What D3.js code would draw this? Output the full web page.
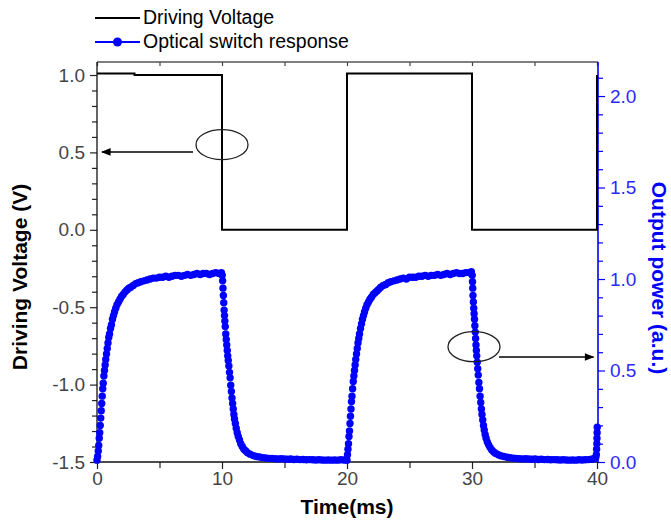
<!DOCTYPE html>
<html>
<head>
<meta charset="utf-8">
<script src="https://cdn.jsdelivr.net/npm/d3@7/dist/d3.min.js"></script>
<style>
  body { margin: 0; background: #fff; }
  svg text { font-family: "Liberation Sans", Arial, sans-serif; }
</style>
</head>
<body>
<div id="chart"></div>
<script>
// driving voltage (square wave), [time ms, volts]
var voltage = [[0, 1.01], [3, 1.01], [3, 1.0], [10, 1.0], [10, 0], [20, 0], [20, 1.01], [30, 1.01], [30, 0], [40, 0], [40, 1.0]];

// optical switch response, [time ms, output a.u.]
var rise1 = [[0.00,0.01],[0.05,0.03],[0.10,0.06],[0.14,0.09],[0.18,0.13],[0.22,0.16],[0.26,0.20],[0.30,0.24],[0.34,0.28],[0.38,0.32],[0.42,0.36],[0.46,0.40],[0.50,0.43],[0.55,0.47],[0.60,0.50],[0.65,0.53],[0.70,0.56],[0.76,0.59],[0.82,0.62],[0.88,0.65],[0.94,0.68],[1.00,0.70],[1.08,0.73],[1.16,0.75],[1.24,0.78],[1.32,0.80],[1.40,0.82],[1.50,0.84],[1.60,0.86],[1.72,0.875],[1.84,0.89],[1.96,0.905],[2.10,0.915],[2.25,0.93],[2.40,0.94],[2.55,0.95],[2.70,0.955],[2.90,0.965],[3.10,0.975],[3.30,0.98],[3.50,0.985],[3.75,0.99],[4.00,0.995],[4.25,1.00],[4.50,1.005],[4.75,1.005],[5.00,1.01],[5.25,1.01],[5.50,1.015],[5.75,1.01],[6.00,1.015],[6.25,1.02],[6.50,1.02],[6.75,1.015],[7.00,1.02],[7.25,1.025],[7.50,1.02],[7.75,1.025],[8.00,1.03],[8.25,1.025],[8.50,1.03],[8.75,1.03],[9.00,1.025],[9.25,1.03],[9.50,1.035],[9.75,1.03],[9.95,1.035]];
var fall1 = [[10.02,1.02],[10.05,0.99],[10.08,0.95],[10.11,0.91],[10.14,0.87],[10.17,0.83],[10.20,0.80],[10.23,0.77],[10.26,0.74],[10.30,0.70],[10.34,0.67],[10.38,0.64],[10.42,0.61],[10.46,0.58],[10.50,0.555],[10.55,0.525],[10.60,0.49],[10.65,0.46],[10.70,0.42],[10.75,0.385],[10.80,0.35],[10.85,0.32],[10.90,0.29],[10.95,0.26],[11.00,0.235],[11.07,0.21],[11.14,0.185],[11.22,0.16],[11.30,0.14],[11.40,0.12],[11.50,0.10],[11.62,0.085],[11.75,0.07],[11.90,0.06],[12.05,0.05],[12.25,0.043],[12.50,0.035],[12.75,0.03],[13.00,0.027],[13.25,0.024],[13.50,0.022],[13.75,0.02],[14.00,0.02],[14.25,0.018],[14.50,0.017],[14.75,0.018],[15.00,0.016],[15.25,0.015],[15.50,0.016],[15.75,0.014],[16.00,0.015],[16.25,0.013],[16.50,0.014],[16.75,0.012],[17.00,0.013],[17.25,0.012],[17.50,0.011],[17.75,0.012],[18.00,0.011],[18.25,0.010],[18.50,0.011],[18.75,0.010],[19.00,0.011],[19.25,0.010],[19.50,0.012],[19.75,0.011],[19.95,0.012]];
var rise2 = [[20.00,0.01],[20.04,0.04],[20.08,0.07],[20.12,0.10],[20.16,0.14],[20.20,0.17],[20.24,0.21],[20.28,0.25],[20.32,0.29],[20.36,0.33],[20.40,0.36],[20.45,0.40],[20.50,0.44],[20.55,0.47],[20.60,0.50],[20.65,0.53],[20.70,0.56],[20.76,0.59],[20.82,0.62],[20.88,0.65],[20.94,0.675],[21.00,0.70],[21.08,0.73],[21.16,0.755],[21.24,0.78],[21.32,0.80],[21.40,0.82],[21.50,0.84],[21.60,0.86],[21.72,0.875],[21.84,0.89],[21.96,0.90],[22.10,0.915],[22.25,0.925],[22.40,0.935],[22.55,0.945],[22.70,0.955],[22.90,0.965],[23.10,0.97],[23.30,0.98],[23.50,0.985],[23.75,0.99],[24.00,0.995],[24.25,1.00],[24.50,1.005],[24.75,1.00],[25.00,1.01],[25.25,1.01],[25.50,1.01],[25.75,1.015],[26.00,1.015],[26.25,1.02],[26.50,1.015],[26.75,1.02],[27.00,1.02],[27.25,1.025],[27.50,1.02],[27.75,1.025],[28.00,1.03],[28.25,1.025],[28.50,1.03],[28.75,1.035],[29.00,1.03],[29.25,1.03],[29.50,1.035],[29.75,1.035],[29.95,1.04]];
var fall2 = [[30.02,1.02],[30.04,0.985],[30.06,0.95],[30.08,0.91],[30.11,0.875],[30.14,0.84],[30.17,0.81],[30.20,0.78],[30.23,0.745],[30.26,0.71],[30.29,0.675],[30.32,0.64],[30.35,0.61],[30.38,0.58],[30.42,0.545],[30.46,0.51],[30.50,0.475],[30.55,0.435],[30.60,0.40],[30.65,0.36],[30.70,0.325],[30.75,0.29],[30.80,0.26],[30.86,0.23],[30.92,0.20],[30.98,0.175],[31.05,0.15],[31.13,0.13],[31.22,0.11],[31.32,0.095],[31.44,0.08],[31.58,0.066],[31.74,0.055],[31.90,0.047],[32.10,0.04],[32.30,0.034],[32.55,0.03],[32.80,0.026],[33.05,0.023],[33.30,0.021],[33.55,0.02],[33.80,0.018],[34.05,0.017],[34.30,0.018],[34.55,0.016],[34.80,0.015],[35.05,0.016],[35.30,0.014],[35.55,0.015],[35.80,0.013],[36.05,0.014],[36.30,0.012],[36.55,0.013],[36.80,0.012],[37.05,0.011],[37.30,0.012],[37.55,0.011],[37.80,0.010],[38.05,0.011],[38.30,0.010],[38.55,0.012],[38.80,0.011],[39.05,0.012],[39.30,0.013],[39.55,0.015],[39.75,0.018],[39.90,0.025]];
var rise3 = [[39.95,0.04],[39.97,0.07],[39.99,0.10],[40.00,0.13],[40.01,0.16],[40.02,0.19]];

// tick labels
var timeTicks = [0, 10, 20, 30, 40];
var voltTicks = [-1.5, -1.0, -0.5, 0.0, 0.5, 1.0];
var powerTicks = [0.0, 0.5, 1.0, 1.5, 2.0];

// ellipse + arrow callouts: ellipse centre, arrow start / end
var voltCallout = {t: 10, v: 0.55, arrowFrom: 7.68, arrowTo: 0.4, arrowV: 0.503};
var powerCallout = {t: 30.16, v: 0.63, arrowFrom: 32.16, arrowTo: 39.72, arrowV: 0.574};

var width = 671, height = 522;
var margin = {left: 97, top: 62, right: 74, bottom: 60};
var blue = "#0000ff";

var svg = d3.select("#chart").append("svg")
    .attr("width", width)
    .attr("height", height);

var x = d3.scaleLinear().domain([0, 40]).range([margin.left, width - margin.right]);
var yL = d3.scaleLinear().domain([-1.5, 1.084]).range([height - margin.bottom, margin.top]);
var yR = d3.scaleLinear().domain([0, 2.186]).range([height - margin.bottom, margin.top]);

var x0 = x.range()[0], x1 = x.range()[1], yTop = margin.top, yBot = height - margin.bottom;

function styleAxis(g, color, textColor) {
    g.selectAll("path.domain").remove();
    g.selectAll("line").attr("stroke", color).attr("stroke-width", 1.2);
    g.selectAll("text").attr("fill", textColor || color).attr("font-size", 19)
        .attr("font-family", "'Liberation Sans', Arial, sans-serif");
}

// minor ticks
var voltMinor = d3.range(-1.5, 1.05, 0.1).filter(function(d){ return Math.abs(d*2 - Math.round(d*2)) > 1e-6; });
var powerMinor = d3.range(0, 2.15, 0.1).filter(function(d){ return Math.abs(d*2 - Math.round(d*2)) > 1e-6; });

// bottom axis
svg.append("g").attr("transform", "translate(0," + yBot + ")")
    .call(d3.axisBottom(x).tickValues(timeTicks).tickSize(7).tickPadding(3).tickFormat(d3.format("d")))
    .call(styleAxis, "#222", "#444");
svg.append("g").attr("transform", "translate(0," + yBot + ")")
    .call(d3.axisBottom(x).tickValues([5, 15, 25, 35]).tickSize(6).tickFormat(""))
    .call(styleAxis, "#222");
// top axis, ticks pointing in
svg.append("g").attr("transform", "translate(0," + yTop + ")")
    .call(d3.axisTop(x).tickValues([0, 5, 10, 15, 20, 25, 30, 35, 40]).tickSize(-4).tickFormat(""))
    .call(styleAxis, "#444");

// left axis
svg.append("g").attr("transform", "translate(" + x0 + ",0)")
    .call(d3.axisLeft(yL).tickValues(voltTicks).tickSize(7).tickPadding(5).tickFormat(function(d){ return d.toFixed(1); }))
    .call(styleAxis, "#222", "#444");
svg.append("g").attr("transform", "translate(" + x0 + ",0)")
    .call(d3.axisLeft(yL).tickValues(voltMinor).tickSize(5).tickFormat(""))
    .call(styleAxis, "#222");

// right axis
svg.append("g").attr("transform", "translate(" + (x1 + 1) + ",0)")
    .call(d3.axisRight(yR).tickValues(powerTicks).tickSize(7).tickPadding(5).tickFormat(function(d){ return d.toFixed(1); }))
    .call(styleAxis, blue, "#2a2aff");
svg.append("g").attr("transform", "translate(" + (x1 + 1) + ",0)")
    .call(d3.axisRight(yR).tickValues(powerMinor).tickSize(5).tickFormat(""))
    .call(styleAxis, blue);

// frame
svg.append("line").attr("x1", x0).attr("x2", x1 + 1).attr("y1", yTop).attr("y2", yTop).attr("stroke", "#555").attr("stroke-width", 1.5);
svg.append("line").attr("x1", x0).attr("x2", x1 + 1).attr("y1", yBot).attr("y2", yBot).attr("stroke", "#111").attr("stroke-width", 1.3);
svg.append("line").attr("x1", x0).attr("x2", x0).attr("y1", yTop).attr("y2", yBot).attr("stroke", "#111").attr("stroke-width", 1.3);
svg.append("line").attr("x1", x1 + 1).attr("x2", x1 + 1).attr("y1", yTop).attr("y2", yBot).attr("stroke", blue).attr("stroke-width", 1.6);

// optical response dots
var power = rise1.concat(fall1, rise2, fall2, rise3);
svg.append("g").selectAll("circle")
    .data(power)
    .enter()
    .append("circle")
    .attr("cx", function(d){ return x(d[0]); })
    .attr("cy", function(d){ return yR(d[1]); })
    .attr("r", 3.7)
    .attr("fill", blue);

// driving voltage line
svg.append("path")
    .datum(voltage)
    .attr("d", d3.line().x(function(d){ return x(d[0]); }).y(function(d){ return yL(d[1]); }))
    .attr("fill", "none")
    .attr("stroke", "#000")
    .attr("stroke-width", 2);

// callouts
svg.append("defs").append("marker")
    .attr("id", "arrow").attr("viewBox", "0 0 10 10").attr("refX", 9).attr("refY", 5)
    .attr("markerWidth", 7).attr("markerHeight", 6).attr("orient", "auto")
    .append("path").attr("d", "M0,1 L10,5 L0,9 Z").attr("fill", "#000");

[[voltCallout, yL], [powerCallout, yR]].forEach(function(c) {
    var o = c[0], ys = c[1];
    svg.append("ellipse")
        .attr("cx", x(o.t)).attr("cy", ys(o.v)).attr("rx", 26).attr("ry", 15)
        .attr("fill", "none").attr("stroke", "#222").attr("stroke-width", 1.3);
    svg.append("line")
        .attr("x1", x(o.arrowFrom)).attr("x2", x(o.arrowTo))
        .attr("y1", ys(o.arrowV)).attr("y2", ys(o.arrowV))
        .attr("stroke", "#000").attr("stroke-width", 1.6)
        .attr("marker-end", "url(#arrow)");
});

// axis titles
svg.append("text")
    .attr("transform", "translate(27," + ((yTop + yBot) / 2 + 15) + ") rotate(-90)")
    .attr("text-anchor", "middle")
    .attr("font-size", 21).attr("font-weight", "bold")
    .text("Driving Voltage (V)");
svg.append("text")
    .attr("transform", "translate(652," + ((yTop + yBot) / 2 + 16) + ") rotate(90)")
    .attr("text-anchor", "middle")
    .attr("font-size", 21).attr("font-weight", "bold")
    .attr("fill", blue)
    .text("Output power (a.u.)");
svg.append("text")
    .attr("x", x(20)).attr("y", 514)
    .attr("text-anchor", "middle")
    .attr("font-size", 21).attr("font-weight", "bold")
    .text("Time(ms)");

// legend
var legend = svg.append("g");
legend.append("line").attr("x1", 95).attr("x2", 140).attr("y1", 18).attr("y2", 18).attr("stroke", "#000").attr("stroke-width", 2);
legend.append("text").attr("x", 143).attr("y", 24).attr("font-size", 19.5).text("Driving Voltage");
legend.append("line").attr("x1", 95).attr("x2", 140).attr("y1", 42).attr("y2", 42).attr("stroke", blue).attr("stroke-width", 2);
legend.append("circle").attr("cx", 117.5).attr("cy", 42).attr("r", 4.5).attr("fill", blue);
legend.append("text").attr("x", 143).attr("y", 48).attr("font-size", 19.5).text("Optical switch response");
</script>
</body>
</html>
